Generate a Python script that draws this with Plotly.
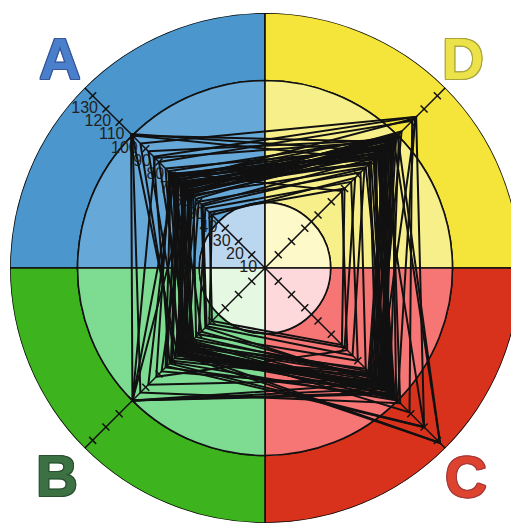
import plotly.graph_objects as go

# ---- data ----
categories = ["A", "D", "C", "B"]
cat_theta = [135, 45, 315, 225]

ring_bounds = [0, 35, 100, 136]
inner_colors = ["#BBD7F0", "#FEF9C8", "#FDD9DB", "#E4F8E2"]
middle_colors = ["#66A8D8", "#F7EF8A", "#F67676", "#7EDB92"]
outer_colors = ["#4A96CD", "#F5E43A", "#D8321C", "#3DB41E"]

tick_values = [10, 20, 30, 40, 50, 60, 70, 80, 90, 100, 110, 120, 130]
tick_labels = [str(v) for v in tick_values]

series_A = [101, 94, 88, 84, 80, 100, 75, 73, 71, 70, 69, 68, 67, 66, 65, 64, 63, 62, 61, 60, 59,
            58, 57, 56, 55, 54, 52, 50, 48, 45, 72, 66, 63, 100, 58, 70, 64, 61, 57, 67, 40, 83,
            42, 47]
series_D = [88, 114, 97, 114, 111, 95, 90, 99, 86, 93, 82, 101, 89, 96, 84, 91, 78, 98, 87, 94, 80,
            103, 85, 92, 76, 88, 95, 72, 83, 65, 58, 113, 90, 82, 97, 86, 79, 100, 93, 87, 68, 96,
            60, 75]
series_C = [95, 86, 132, 120, 109, 102, 92, 88, 97, 84, 90, 94, 80, 99, 86, 93, 89, 82, 96, 87, 91,
            85, 98, 79, 93, 83, 90, 76, 88, 70, 62, 100, 78, 95, 87, 92, 84, 132, 81, 120, 60, 91,
            58, 66]
series_B = [100, 68, 63, 72, 58, 94, 65, 61, 75, 88, 60, 100, 57, 63, 70, 55, 62, 66, 59, 64, 78,
            62, 56, 68, 61, 52, 64, 58, 45, 50, 82, 71, 54, 66, 100, 62, 48, 65, 59, 74, 42, 100,
            40, 44]

letter_labels = ["A", "D", "C", "B"]
letter_fill = ["#4A7FCB", "#ECE24A", "#DE4330", "#3C7243"]
letter_edge = ["#38589A", "#A9A43A", "#A8393A", "#2A5232"]
letter_pos = [(0.101, 0.903), (0.877, 0.903), (0.882, 0.108), (0.095, 0.110)]

fig = go.Figure()

# background rings / quadrants
for (b0, b1, cols) in [(ring_bounds[2], ring_bounds[3], outer_colors),
                       (ring_bounds[1], ring_bounds[2], middle_colors),
                       (ring_bounds[0], ring_bounds[1], inner_colors)]:
    fig.add_trace(go.Barpolar(
        r=[b1 - b0] * 4, base=[b0] * 4, theta=cat_theta, width=[90] * 4,
        marker=dict(color=cols, line=dict(color="#111111", width=1.6)),
        hoverinfo="skip"))

# axis lines
R = ring_bounds[-1]
fig.add_trace(go.Scatterpolar(
    r=[R, 0, R, None, R, 0, R], theta=[135, 135, 315, None, 45, 45, 225],
    mode="lines", line=dict(color="#111111", width=1.5), hoverinfo="skip"))

# tick labels on A axis (nudged slightly inward so they sit below-left of each tick)
label_r = [v - 4 for v in tick_values]
fig.add_trace(go.Scatterpolar(
    r=label_r, theta=[135] * len(tick_values), mode="text", text=tick_labels,
    textposition="bottom left",
    textfont=dict(family="Liberation Sans, Arial", size=16, color="#222222"),
    hoverinfo="skip"))

# data polygons
rr, tt = [], []
for a, d, c, b in zip(series_A, series_D, series_C, series_B):
    rr += [a, d, c, b, a, None]
    tt += cat_theta + [cat_theta[0], None]
fig.add_trace(go.Scatterpolar(r=rr, theta=tt, mode="lines",
                              line=dict(color="#111111", width=2), hoverinfo="skip"))

# tick marks
for th, sym in [(135, "line-ne"), (315, "line-ne"), (45, "line-nw"), (225, "line-nw")]:
    fig.add_trace(go.Scatterpolar(
        r=tick_values, theta=[th] * len(tick_values), mode="markers",
        marker=dict(symbol=sym, size=7, color="#111111",
                    line=dict(color="#111111", width=1.5)),
        hoverinfo="skip"))

for lab, fc, ec, (px, py) in zip(letter_labels, letter_fill, letter_edge, letter_pos):
    sh = ", ".join(f"{dx}px {dy}px 0 {ec}" for dx, dy in
                   [(1, 0), (-1, 0), (0, 1), (0, -1), (1, 1), (-1, -1), (1, -1), (-1, 1)])
    fig.add_annotation(x=px, y=py, xref="paper", yref="paper", text=lab, showarrow=False,
                       font=dict(family="Liberation Sans Narrow, Liberation Sans, Arial", size=58,
                                 color=fc, weight="bold", shadow=sh),
                       xanchor="center", yanchor="middle")

fig.update_layout(
    width=519, height=525, margin=dict(l=0, r=0, t=0, b=0),
    paper_bgcolor="white", plot_bgcolor="white", showlegend=False,
    polar=dict(
        domain=dict(x=[0.0039, 0.9865], y=[0.019, 0.9905]),
        bgcolor="rgba(0,0,0,0)", bargap=0,
        radialaxis=dict(visible=False, range=[0, R]),
        angularaxis=dict(visible=False, direction="counterclockwise", rotation=0),
    ),
)

fig.write_html("out.html")
